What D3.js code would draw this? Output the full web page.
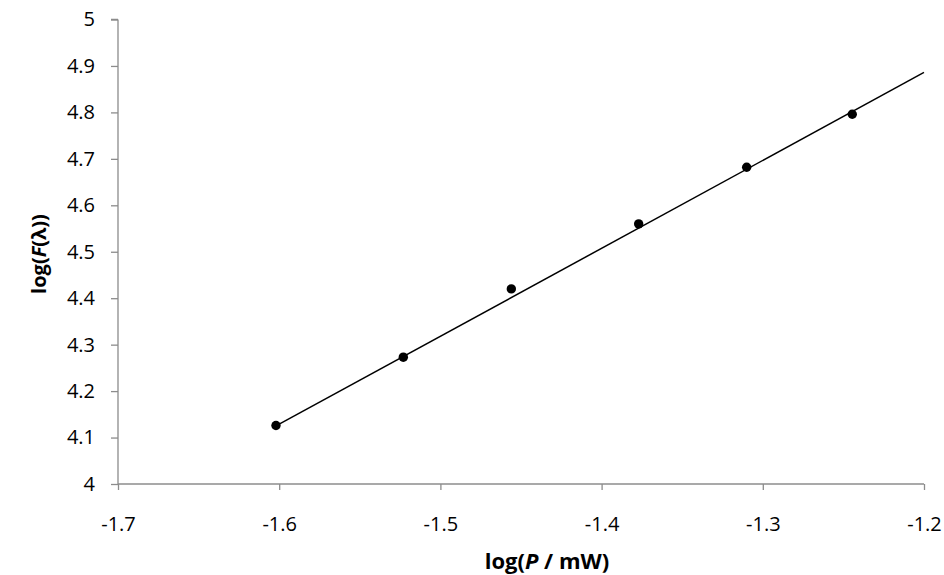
<!DOCTYPE html>
<html><head><meta charset="utf-8">
<script src="https://cdn.jsdelivr.net/npm/d3@7"></script>
<style>body{margin:0;background:#fff}svg{display:block}text{font-family:"Open Sans",sans-serif}</style>
</head><body>
<svg id="c" width="944" height="575"></svg>
<script>
const xValues = [-1.602, -1.523, -1.456, -1.377, -1.310, -1.2445];
const yValues = [4.126, 4.273, 4.420, 4.560, 4.682, 4.796];
const trendX = [-1.602, -1.2];
const trendY = [4.125, 4.886];
const xTicks = [-1.7, -1.6, -1.5, -1.4, -1.3, -1.2];
const yTicks = [4, 4.1, 4.2, 4.3, 4.4, 4.5, 4.6, 4.7, 4.8, 4.9, 5];

const svg = d3.select("#c");
const x = d3.scaleLinear().domain([-1.7, -1.2]).range([118, 924]);
const y = d3.scaleLinear().domain([4, 5]).range([484, 19.5]);
const axisColor = "#8c8c8c";

const gy = svg.append("g").attr("transform", "translate(118,0)")
  .call(d3.axisLeft(y).tickValues(yTicks).tickSize(7).tickPadding(16).tickFormat(d => d3.format("")(+d.toFixed(1))));
const gx = svg.append("g").attr("transform", "translate(0,484)")
  .call(d3.axisBottom(x).tickValues(xTicks).tickSize(6).tickPadding(27).tickFormat(d => d.toFixed(1)));
[gx, gy].forEach(g => {
  g.select(".domain").attr("stroke", axisColor).attr("stroke-width", 1.3);
  g.selectAll(".tick line").attr("stroke", axisColor).attr("stroke-width", 1.3);
  g.selectAll("text").attr("fill", "#000").style("font-size", "20px").style("font-family", "'Open Sans',sans-serif");
});
gy.select(".domain").attr("d", "M0,484V19.5M-7,19.5H0");
gx.select(".domain").attr("d", "M118,0H924");

const line = d3.line().x(d => x(d[0])).y(d => y(d[1]));
svg.append("path").datum(trendX.map((v, i) => [v, trendY[i]]))
  .attr("d", line).attr("fill", "none").attr("stroke", "#000").attr("stroke-width", 1.5);

svg.selectAll("circle.pt").data(xValues.map((v, i) => [v, yValues[i]])).enter()
  .append("circle").attr("class", "pt").attr("cx", d => x(d[0])).attr("cy", d => y(d[1])).attr("r", 4.7).attr("fill", "#000");

const xt = svg.append("text").attr("x", 547).attr("y", 569).attr("text-anchor", "middle")
  .style("font-size", "22px").style("font-weight", "bold");
xt.append("tspan").text("log(");
xt.append("tspan").style("font-style", "italic").text("P");
xt.append("tspan").text(" / mW)");

const yt = svg.append("text").attr("transform", "translate(46,254) rotate(-90)").attr("text-anchor", "middle")
  .style("font-size", "20px").style("font-weight", "bold");
yt.append("tspan").text("log(");
yt.append("tspan").style("font-style", "italic").text("F");
yt.append("tspan").text("(λ))");
</script>
</body></html>
